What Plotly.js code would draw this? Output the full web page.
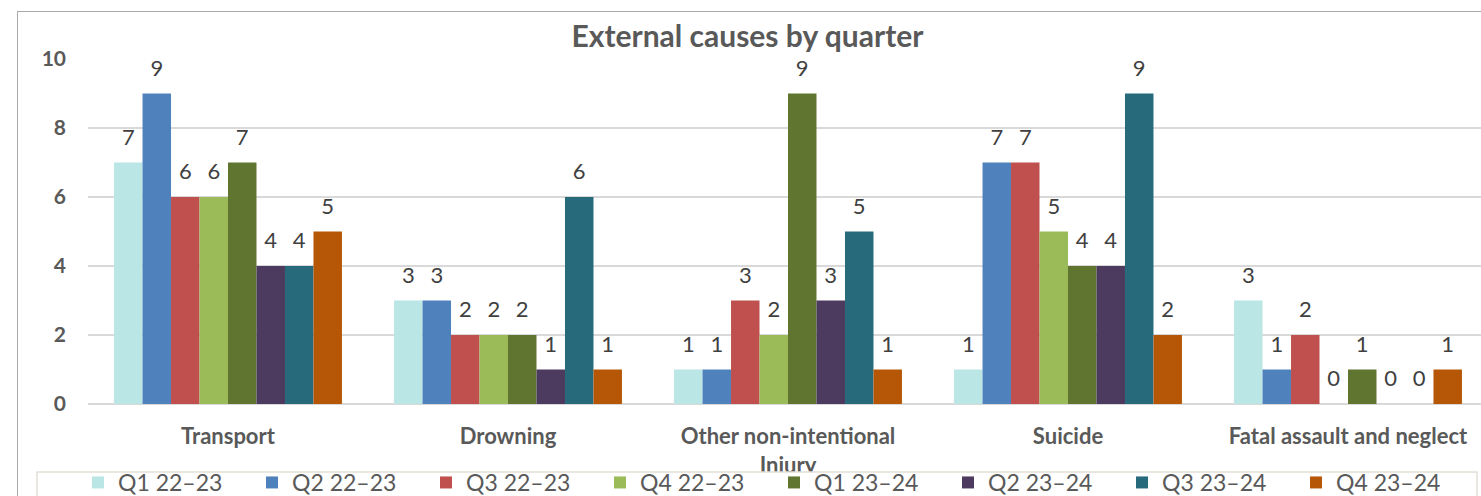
<!DOCTYPE html>
<html>
<head>
<meta charset="utf-8">
<script src="https://cdn.plot.ly/plotly-3.0.1.min.js"></script>
<style>
html,body{margin:0;padding:0;overflow:hidden;background:#fff;width:1481px;height:496px;}
#frame{position:absolute;left:17px;top:11px;width:2000px;height:1000px;border-left:1.5px solid #a9a9a9;border-top:1.5px solid #a9a9a9;pointer-events:none;z-index:5;}
#chart{position:absolute;left:0;top:0;}
</style>
</head>
<body>
<div id="chart"></div>
<div id="frame"></div>
<script>
const categories = ["Transport", "Drowning", "Other non-intentional<br>Injury", "Suicide", "Fatal assault and neglect"];
const seriesNames = ["Q1 22–23", "Q2 22–23", "Q3 22–23", "Q4 22–23", "Q1 23–24", "Q2 23–24", "Q3 23–24", "Q4 23–24"];
const q1_2223 = [7, 3, 1, 1, 3];
const q2_2223 = [9, 3, 1, 7, 1];
const q3_2223 = [6, 2, 3, 7, 2];
const q4_2223 = [6, 2, 2, 5, 0];
const q1_2324 = [7, 2, 9, 4, 1];
const q2_2324 = [4, 1, 3, 4, 0];
const q3_2324 = [4, 6, 5, 9, 0];
const q4_2324 = [5, 1, 1, 2, 1];
const seriesValues = [q1_2223, q2_2223, q3_2223, q4_2223, q1_2324, q2_2324, q3_2324, q4_2324];
const colors = ["#BAE6E5", "#4F81BD", "#C0504D", "#9BBB59", "#60752F", "#4D3A5F", "#276A7C", "#B65708"];

const font = "Lato, 'Open Sans', sans-serif";
const PW = 1393, PH = 345, ML = 88, MT = 59, H = 530;

const traces = seriesNames.map((n, i) => ({
  type: "bar",
  name: n,
  x: categories,
  y: seriesValues[i],
  marker: {color: colors[i], line: {width: 0}},
  text: seriesValues[i].map(v => "<span style='font-size:22px'>" + v + "</span><br> "),
  textposition: "outside",
  cliponaxis: false,
  textfont: {family: font, size: 10, color: "#404040"},
  hoverinfo: "skip"
}));

const layout = {
  width: 1481, height: H,
  margin: {l: ML, r: 0, t: MT, b: H - MT - PH},
  paper_bgcolor: "#fff", plot_bgcolor: "#fff",
  barmode: "group", bargap: 0.186, bargroupgap: 0,
  title: {text: "<b>External causes by quarter</b>", font: {family: font, size: 30, color: "#595959"}, x: 0.5047, xanchor: "center", y: 1 - 36.5 / H, yanchor: "middle"},
  xaxis: {type: "category", range: [-0.5, 4.475], showgrid: false, zeroline: false, showline: false, ticks: "",
    tickfont: {family: font, size: 22, color: "#595959", weight: "bold"}, ticklabelstandoff: 17},
  yaxis: {range: [0, 10], dtick: 2, showgrid: true, gridcolor: "#d9d9d9", gridwidth: 1.5, zeroline: true, zerolinecolor: "#d9d9d9", zerolinewidth: 1.5,
    showline: false, ticks: "", tickfont: {family: font, size: 21, color: "#595959", weight: "bold"}, ticklabelstandoff: 21},
  shapes: [{type: "rect", xref: "paper", yref: "paper", layer: "above",
    x0: (37 - ML) / PW, x1: (1477 - ML) / PW, y0: -(472 - (MT + PH)) / PH, y1: -0.6,
    fillcolor: "#ffffff", line: {color: "#e3dfd6", width: 1.5}}],
  showlegend: true,
  legend: {orientation: "h", x: (78 - ML) / PW, xanchor: "left", y: -(461 - (MT + PH)) / PH, yanchor: "top", bgcolor: "rgba(0,0,0,0)", borderwidth: 0,
    entrywidth: 129, entrywidthmode: "pixels", font: {family: font, size: 23, color: "#595959"}, traceorder: "normal", itemclick: false},
  font: {family: font}
};

Plotly.newPlot("chart", traces, layout, {displayModeBar: false, staticPlot: true});
</script>
</body>
</html>
